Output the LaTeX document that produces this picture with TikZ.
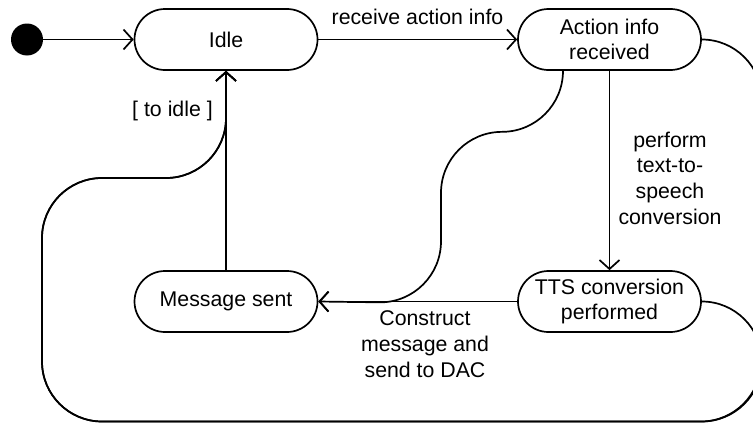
\documentclass[tikz,border=0pt]{standalone}
\usepackage{fontspec}
\setmainfont{Liberation Sans}
\usetikzlibrary{arrows.meta,calc}
\newcommand\fs{\fontsize{21.3}{25.7}\selectfont}
\tikzset{
 state/.style={draw, line width=1.7pt, rounded corners=30.5pt, minimum width=183pt, minimum height=61pt, inner sep=0pt, align=center, font=\fs},
 lbl/.style={inner sep=0pt, align=center, font=\fs},
 trans/.style={line width=1.7pt, -{Straight Barb[length=9pt,width=20pt]}},
}
\begin{document}
\begin{tikzpicture}[x=1pt,y=1pt]
\useasboundingbox (0,0) rectangle (753,-423);
\clip (0,0) rectangle (753,-423);
\node[circle, fill=black, minimum size=32pt, inner sep=0pt] (init) at (27,-39.5) {};
\node[state] (idle) at (226,-39.5) {Idle};
\node[state] (air) at (609.5,-39.5) {Action info\\received};
\node[state] (tts) at (609.5,-301.5) {TTS conversion\\performed};
\node[state] (ms) at (226,-301.5) {Message sent};

\node[lbl] (l1) at (417.5,-17) {receive action info};
\node[lbl] (l2) at (172.5,-111) {[ to idle ]};
\node[lbl] (l3) at (670,-178) {perform\\text-to-\\speech\\conversion};
\node[lbl] (l4) at (425,-344) {Construct\\message and\\send to DAC};

\draw[trans] (init) -- (idle);
\draw[trans] (idle.east) -- (air.west);
\draw[trans] (air.south) -- (tts.north);
\draw[trans] (tts.west) -- (ms.east);
\draw[trans] (ms.north) -- (idle.south);

\draw[trans] ([xshift=-46.5pt]air.south) arc[start angle=0,end angle=-90,radius=61pt]
  arc[start angle=90,end angle=180,radius=61pt] -- ++(0,-48.5)
  arc[start angle=0,end angle=-90,radius=61pt] -- (ms.east);

\draw[trans] (tts.east) arc[start angle=90,end angle=-90,radius=60pt] -- (102,-421.5)
  arc[start angle=-90,end angle=-180,radius=60pt] -- (42,-238)
  arc[start angle=180,end angle=90,radius=60pt] -- (166,-178)
  arc[start angle=-90,end angle=0,radius=60pt] -- (idle.south);

\draw[trans] (air.east) arc[start angle=90,end angle=0,radius=60pt] -- (761,-361.5)
  arc[start angle=0,end angle=-90,radius=60pt] -- (102,-421.5)
  arc[start angle=-90,end angle=-180,radius=60pt] -- (42,-238)
  arc[start angle=180,end angle=90,radius=60pt] -- (166,-178)
  arc[start angle=-90,end angle=0,radius=60pt] -- (idle.south);
\end{tikzpicture}
\end{document}
